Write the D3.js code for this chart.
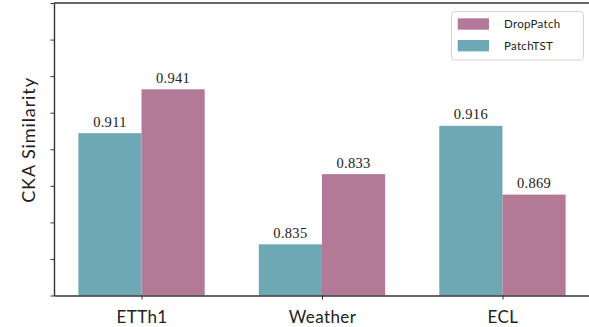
<!DOCTYPE html>
<html>
<head>
<meta charset="utf-8">
<script src="https://cdn.jsdelivr.net/npm/d3@7"></script>
<style>
  body { margin: 0; background: #fff; }
  svg { display: block; }
</style>
</head>
<body>
<svg id="svg" width="589" height="327"></svg>
<script>
var categories = ['ETTh1', 'Weather', 'ECL'];
var patchTST = [0.911, 0.835, 0.916];
var dropPatch = [0.941, 0.883, 0.869];
// bar labels as printed in the figure (Weather DropPatch is labelled 0.833)
var patchTSTLabels = ['0.911', '0.835', '0.916'];
var dropPatchLabels = ['0.941', '0.833', '0.869'];
var yTicks = [0.8, 0.825, 0.85, 0.875, 0.9, 0.925, 0.95, 0.975, 1.0];

var teal = '#6fa8b5';
var mauve = '#b27a96';
var barW = 0.35;

var svg = d3.select('svg');

var x = d3.scaleLinear()
    .domain([-0.485, 2.485])
    .range([54, 590]);

var y = d3.scaleLinear()
    .domain([0.8, 1.0])
    .range([295.5, 3]);

// bars
svg.selectAll('rect.ptst')
    .data(patchTST)
    .enter()
    .append('rect')
    .attr('class', 'ptst')
    .attr('x', function (d, i) { return x(i - barW); })
    .attr('width', x(barW) - x(0))
    .attr('y', function (d) { return y(d); })
    .attr('height', function (d) { return y(0.8) - y(d); })
    .attr('fill', teal);

svg.selectAll('rect.dp')
    .data(dropPatch)
    .enter()
    .append('rect')
    .attr('class', 'dp')
    .attr('x', function (d, i) { return x(i); })
    .attr('width', x(barW) - x(0))
    .attr('y', function (d) { return y(d); })
    .attr('height', function (d) { return y(0.8) - y(d); })
    .attr('fill', mauve);

// value labels
svg.selectAll('text.lab1')
    .data(patchTST)
    .enter()
    .append('text')
    .attr('class', 'lab1')
    .attr('x', function (d, i) { return x(i - barW / 2); })
    .attr('y', function (d) { return y(d) - 6.5; })
    .attr('text-anchor', 'middle')
    .style('font-family', 'Liberation Serif, serif')
    .style('font-size', '14.5px')
    .style('letter-spacing', '0.3px')
    .style('fill', '#222')
    .text(function (d, i) { return patchTSTLabels[i]; });

svg.selectAll('text.lab2')
    .data(dropPatch)
    .enter()
    .append('text')
    .attr('class', 'lab2')
    .attr('x', function (d, i) { return x(i + barW / 2); })
    .attr('y', function (d) { return y(d) - 6.5; })
    .attr('text-anchor', 'middle')
    .style('font-family', 'Liberation Serif, serif')
    .style('font-size', '14.5px')
    .style('letter-spacing', '0.3px')
    .style('fill', '#222')
    .text(function (d, i) { return dropPatchLabels[i]; });

// axes
var xAxis = svg.append('g')
    .attr('transform', 'translate(0,' + y(0.8) + ')')
    .call(d3.axisBottom(x)
        .tickValues([0, 1, 2])
        .tickFormat(function (d) { return categories[d]; })
        .tickSize(4)
        .tickSizeOuter(0));
xAxis.select('.domain').attr('stroke', '#333').attr('stroke-width', 1.4);
xAxis.selectAll('.tick line').attr('stroke', '#333').attr('stroke-width', 1);
xAxis.selectAll('.tick text')
    .attr('dy', '0')
    .attr('y', 27)
    .style('font-family', 'Lato, sans-serif')
    .style('font-size', '17px')
    .style('letter-spacing', '0.4px')
    .style('fill', '#222');

var yAxis = svg.append('g')
    .attr('transform', 'translate(' + x(-0.485) + ',0)')
    .call(d3.axisLeft(y)
        .tickValues(yTicks)
        .tickFormat('')
        .tickSize(3.5)
        .tickSizeOuter(0));
yAxis.select('.domain').attr('stroke', '#333').attr('stroke-width', 1.4);
yAxis.selectAll('.tick line').attr('stroke', '#333').attr('stroke-width', 1);

// top spine
svg.append('line')
    .attr('x1', x(-0.485)).attr('x2', 589)
    .attr('y1', y(1.0)).attr('y2', y(1.0))
    .attr('stroke', '#333')
    .attr('stroke-width', 1.4);

// y label
svg.append('text')
    .text('CKA Similarity')
    .attr('transform', 'translate(35,' + 140 + ') rotate(-90)')
    .attr('text-anchor', 'middle')
    .style('font-family', 'Lato, sans-serif')
    .style('font-size', '18px')
    .style('letter-spacing', '0.9px')
    .style('fill', '#222');

// legend
var legend = svg.append('g');
legend.append('rect')
    .attr('x', 451.5).attr('y', 11.5)
    .attr('width', 132).attr('height', 48.5)
    .attr('rx', 3)
    .attr('fill', '#fff')
    .attr('stroke', '#d5d5d5')
    .attr('stroke-width', 1);

var legendItems = [
    { name: 'DropPatch', color: mauve },
    { name: 'PatchTST', color: teal }
];
legend.selectAll('rect.key')
    .data(legendItems)
    .enter()
    .append('rect')
    .attr('class', 'key')
    .attr('x', 457.7)
    .attr('y', function (d, i) { return 18.3 + i * 21.7; })
    .attr('width', 31.3)
    .attr('height', 11.4)
    .attr('fill', function (d) { return d.color; });
legend.selectAll('text.key')
    .data(legendItems)
    .enter()
    .append('text')
    .attr('class', 'key')
    .attr('x', 504)
    .attr('y', function (d, i) { return 28.3 + i * 21.7; })
    .style('font-family', 'Lato, sans-serif')
    .style('font-size', '11.5px')
    .style('letter-spacing', '0.3px')
    .style('fill', '#222')
    .text(function (d) { return d.name; });
</script>
</body>
</html>
